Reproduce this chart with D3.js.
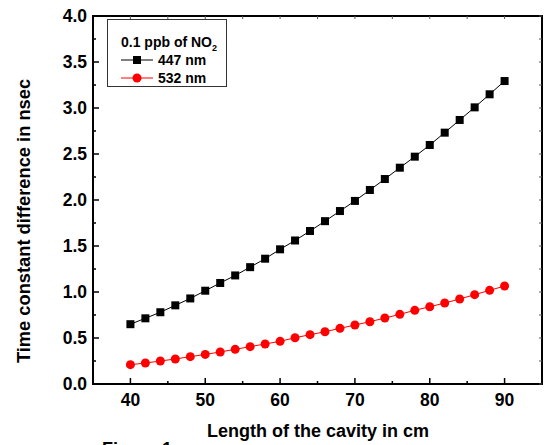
<!DOCTYPE html>
<html>
<head>
<meta charset="utf-8">
<script src="https://cdn.jsdelivr.net/npm/d3@7"></script>
<style>
  html, body { margin: 0; padding: 0; background: #fff; }
  svg { display: block; }
  text { font-family: Arial, "Liberation Sans", sans-serif; font-weight: bold; fill: #000; }
</style>
</head>
<body>
<script>
// ---- data ----
const cavityLength = [40,42,44,46,48,50,52,54,56,58,60,62,64,66,68,70,72,74,76,78,80,82,84,86,88,90];
const series447 = [0.65,0.714,0.78,0.855,0.93,1.014,1.098,1.18,1.27,1.362,1.464,1.56,1.663,1.77,1.88,1.99,2.109,2.228,2.351,2.471,2.598,2.732,2.87,3.007,3.149,3.293];
const series532 = [0.21,0.228,0.25,0.272,0.297,0.322,0.348,0.377,0.406,0.435,0.464,0.503,0.536,0.568,0.605,0.641,0.677,0.717,0.757,0.801,0.84,0.88,0.924,0.971,1.018,1.065];
const xTicks = [40,50,60,70,80,90];
const yTicks = [0.0,0.5,1.0,1.5,2.0,2.5,3.0,3.5,4.0];
const seriesNames = ["447 nm","532 nm"];
const legendTitle = "0.1 ppb of NO";
const xTitle = "Length of the cavity in cm";
const yTitle = "Time constant difference in nsec";
const captionText = "Figure 1";

// ---- layout ----
const W = 544, H = 445;
const L = 93, R = 542, T = 16, B = 384;

const svg = d3.select("body").append("svg").attr("width", W).attr("height", H);

const x = d3.scaleLinear().domain([35, 95]).range([L, R]);
const y = d3.scaleLinear().domain([0, 4]).range([B, T]);

// minor ticks
const xMinor = d3.range(45, 95, 10);
const yMinor = d3.range(0.25, 4, 0.5);

// frame
svg.append("rect").attr("x", L).attr("y", T).attr("width", R - L).attr("height", B - T)
  .attr("fill", "none").attr("stroke", "#000").attr("stroke-width", 2);

const g = svg.append("g");
// bottom ticks inward
xTicks.forEach(v => g.append("line").attr("x1", x(v)).attr("x2", x(v)).attr("y1", B).attr("y2", B - 6).attr("stroke", "#000").attr("stroke-width", 1.5));
xMinor.forEach(v => g.append("line").attr("x1", x(v)).attr("x2", x(v)).attr("y1", B).attr("y2", B - 3).attr("stroke", "#000").attr("stroke-width", 1.5));
// top ticks
xTicks.concat(xMinor).forEach(v => g.append("line").attr("x1", x(v)).attr("x2", x(v)).attr("y1", T).attr("y2", T + 3).attr("stroke", "#555").attr("stroke-width", 1));
// left ticks
yTicks.forEach(v => g.append("line").attr("x1", L).attr("x2", L + 6).attr("y1", y(v)).attr("y2", y(v)).attr("stroke", "#000").attr("stroke-width", 1.5));
yMinor.forEach(v => g.append("line").attr("x1", L).attr("x2", L + 3).attr("y1", y(v)).attr("y2", y(v)).attr("stroke", "#000").attr("stroke-width", 1.5));
// right ticks
yTicks.concat(yMinor).forEach(v => g.append("line").attr("x1", R).attr("x2", R - 3).attr("y1", y(v)).attr("y2", y(v)).attr("stroke", "#555").attr("stroke-width", 1));

// tick labels
yTicks.forEach(v => svg.append("text").attr("x", 87).attr("y", y(v)).attr("dy", "0.36em")
  .attr("text-anchor", "end").attr("font-size", 17.5).text(d3.format(".1f")(v)));
xTicks.forEach(v => svg.append("text").attr("x", x(v)).attr("y", 406)
  .attr("text-anchor", "middle").attr("font-size", 17.5).text(v));

// axis titles
svg.append("text").attr("x", 318).attr("y", 437).attr("text-anchor", "middle").attr("font-size", 18).text(xTitle);
svg.append("text").attr("transform", "translate(29.5,221) rotate(-90)").attr("text-anchor", "middle").attr("font-size", 18.3).text(yTitle);
svg.append("text").attr("x", 102).attr("y", 455).attr("font-size", 18).text(captionText);

// series
const data447 = cavityLength.map((c, i) => [c, series447[i]]);
const data532 = cavityLength.map((c, i) => [c, series532[i]]);
const line = d3.line().x(d => x(d[0])).y(d => y(d[1]));

svg.append("path").datum(data447).attr("d", line).attr("fill", "none").attr("stroke", "#000").attr("stroke-width", 1);
svg.append("path").datum(data532).attr("d", line).attr("fill", "none").attr("stroke", "#ff0000").attr("stroke-width", 1);

const sq = 8;
svg.selectAll(".sq").data(data447).enter().append("rect")
  .attr("x", d => x(d[0]) - sq / 2).attr("y", d => y(d[1]) - sq / 2)
  .attr("width", sq).attr("height", sq).attr("fill", "#000");
svg.selectAll(".ci").data(data532).enter().append("circle")
  .attr("cx", d => x(d[0])).attr("cy", d => y(d[1])).attr("r", 4.5).attr("fill", "#ff0000");

// legend
const lg = svg.append("g");
lg.append("rect").attr("x", 107.5).attr("y", 19.5).attr("width", 119).attr("height", 67)
  .attr("fill", "#fff").attr("stroke", "#333").attr("stroke-width", 1);
const lt = lg.append("text").attr("x", 121).attr("y", 47).attr("font-size", 14);
lt.append("tspan").text(legendTitle);
lt.append("tspan").attr("font-size", 9).attr("dy", 4).text("2");
// entry 1
lg.append("line").attr("x1", 121).attr("x2", 153).attr("y1", 60).attr("y2", 60).attr("stroke", "#000").attr("stroke-width", 1);
lg.append("rect").attr("x", 137 - sq / 2).attr("y", 60 - sq / 2).attr("width", sq).attr("height", sq).attr("fill", "#000");
lg.append("text").attr("x", 158).attr("y", 60).attr("dy", "0.36em").attr("font-size", 14).text(seriesNames[0]);
// entry 2
lg.append("line").attr("x1", 121).attr("x2", 153).attr("y1", 78).attr("y2", 78).attr("stroke", "#ff0000").attr("stroke-width", 1);
lg.append("circle").attr("cx", 137).attr("cy", 78).attr("r", 4.5).attr("fill", "#ff0000");
lg.append("text").attr("x", 158).attr("y", 78).attr("dy", "0.36em").attr("font-size", 14).text(seriesNames[1]);
</script>
</body>
</html>
